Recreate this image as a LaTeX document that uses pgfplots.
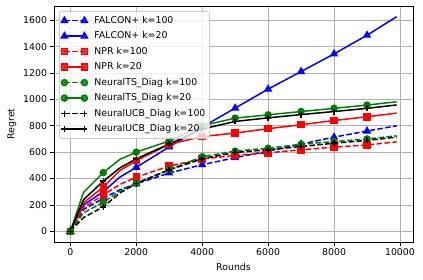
\documentclass[border=0pt]{standalone}
\usepackage{fontspec}
\setmainfont{DejaVu Sans}
\usepackage{pgfplots}
\pgfplotsset{compat=1.18}
\definecolor{mgreen}{rgb}{0,0.5,0}
\begin{document}
\begin{tikzpicture}
\begin{axis}[
  scale only axis,
  width=359bp, height=236bp,
  at={(0,0)}, anchor=south west,
  xmin=-495, xmax=10395,
  ymin=-81, ymax=1708,
  xtick={0,2000,4000,6000,8000,10000},
  ytick={0,200,400,600,800,1000,1200,1400,1600},
  scaled x ticks=false, scaled y ticks=false,
  /pgf/number format/1000 sep={},
  /pgf/number format/assume math mode=true,
  tick label style={font=\fontsize{9.4}{11}\selectfont},
  label style={font=\fontsize{9.4}{11}\selectfont},
  xlabel={Rounds}, ylabel={Regret},
  grid=major,
  major grid style={color=black!31, line width=0.8pt},
  axis line style={line width=0.8pt},
  tick style={black, line width=0.8pt},
  tick align=outside,
  major tick length=3.5bp,
  xtick pos=bottom, ytick pos=left,
  legend cell align=left,
  legend style={at={(rel axis cs:0.014,0.979)}, anchor=north west,
    draw=black!20, line width=0.8bp, rounded corners=2bp, fill=white, fill opacity=0.8, draw opacity=1, text opacity=1,
    font=\fontsize{9.4}{11}\selectfont,
    inner xsep=2bp, inner ysep=1.5bp,
    nodes={inner xsep=2bp, inner ysep=3.25bp, text height=7bp, text depth=2bp},
    column sep=5bp, row sep=0pt},
  legend image code/.code={\draw[mark repeat=2,mark phase=2] plot coordinates {(0bp,0bp) (10bp,0bp) (20bp,0bp)};},
  every axis plot/.append style={line width=1.5bp},
  mark indices={1,3,5,6,7,8,9,10,11,12},
]
\addlegendimage{blue, line width=1.5bp, dash pattern=on 5.5bp off 2.4bp, mark=triangle*, mark size=3.4bp, mark options={solid}}
\addlegendentry{FALCON+ k=100}
\addlegendimage{blue, line width=1.5bp, solid, mark=triangle*, mark size=3.4bp}
\addlegendentry{FALCON+ k=20}
\addlegendimage{red, line width=1.5bp, dash pattern=on 5.5bp off 2.4bp, mark=square*, mark size=3bp, mark options={solid}}
\addlegendentry{NPR k=100}
\addlegendimage{red, line width=1.5bp, solid, mark=square*, mark size=3bp}
\addlegendentry{NPR k=20}
\addlegendimage{mgreen, line width=1.5bp, dash pattern=on 5.5bp off 2.4bp, mark=*, mark size=3bp, mark options={solid}}
\addlegendentry{NeuralTS\_Diag k=100}
\addlegendimage{mgreen, line width=1.5bp, solid, mark=*, mark size=3bp}
\addlegendentry{NeuralTS\_Diag k=20}
\addlegendimage{black, line width=1.5bp, dash pattern=on 5.5bp off 2.4bp, mark=+, mark size=3bp, mark options={solid}}
\addlegendentry{NeuralUCB\_Diag k=100}
\addlegendimage{black, line width=1.5bp, solid, mark=+, mark size=3bp}
\addlegendentry{NeuralUCB\_Diag k=20}

% FALCON+ k=100
\addplot[forget plot, blue, dash pattern=on 5.5bp off 2.4bp, mark=triangle*, mark size=3.4bp, mark options={solid}] coordinates {
(0,0) (400,165) (1000,250) (1500,315) (2000,360) (3000,442) (4000,505) (5000,558) (6000,608) (7000,661) (8000,714) (9000,760) (9900,800)};
% FALCON+ k=20
\addplot[forget plot, blue, solid, mark=triangle*, mark size=3.4bp] coordinates {
(0,0) (400,200) (1000,300) (1500,410) (2000,485) (3000,640) (4000,790) (5000,934) (6000,1078) (7000,1211) (8000,1345) (9000,1486) (9900,1627)};
% NPR k=100
\addplot[forget plot, red, dash pattern=on 5.5bp off 2.4bp, mark=square*, mark size=3bp, mark options={solid}] coordinates {
(0,0) (400,180) (1000,275) (1500,355) (2000,410) (3000,495) (4000,548) (5000,575) (6000,595) (7000,618) (8000,638) (9000,655) (9900,678)};
% NPR k=20
\addplot[forget plot, red, solid, mark=square*, mark size=3bp] coordinates {
(0,0) (400,217) (1000,335) (1500,460) (2000,535) (3000,660) (4000,718) (5000,745) (6000,778) (7000,808) (8000,840) (9000,868) (9900,896)};
% NeuralTS k=100
\addplot[forget plot, mgreen, dash pattern=on 5.5bp off 2.4bp, mark=*, mark size=3bp, mark options={solid}] coordinates {
(0,0) (400,140) (1000,220) (1500,305) (2000,365) (3000,468) (4000,565) (5000,608) (6000,630) (7000,660) (8000,680) (9000,700) (9900,724)};
% NeuralTS k=20
\addplot[forget plot, mgreen, solid, mark=*, mark size=3bp] coordinates {
(0,0) (400,295) (1000,445) (1500,545) (2000,600) (3000,685) (4000,800) (5000,858) (6000,883) (7000,908) (8000,932) (9000,957) (9900,982)};
% NeuralUCB k=100
\addplot[forget plot, black, dash pattern=on 5.5bp off 2.4bp, mark=+, mark size=3bp, mark options={solid}] coordinates {
(0,0) (400,104) (1000,185) (1500,290) (2000,362) (3000,465) (4000,550) (5000,598) (6000,618) (7000,643) (8000,668) (9000,689) (9900,714)};
% NeuralUCB k=20
\addplot[forget plot, black, solid, mark=+, mark size=3bp] coordinates {
(0,0) (400,240) (1000,380) (1500,480) (2000,550) (3000,662) (4000,775) (5000,833) (6000,860) (7000,885) (8000,908) (9000,932) (9900,958)};
\end{axis}
\pgfresetboundingbox
\useasboundingbox (-54bp,-38bp) rectangle (369bp,242bp);
\end{tikzpicture}
\end{document}
